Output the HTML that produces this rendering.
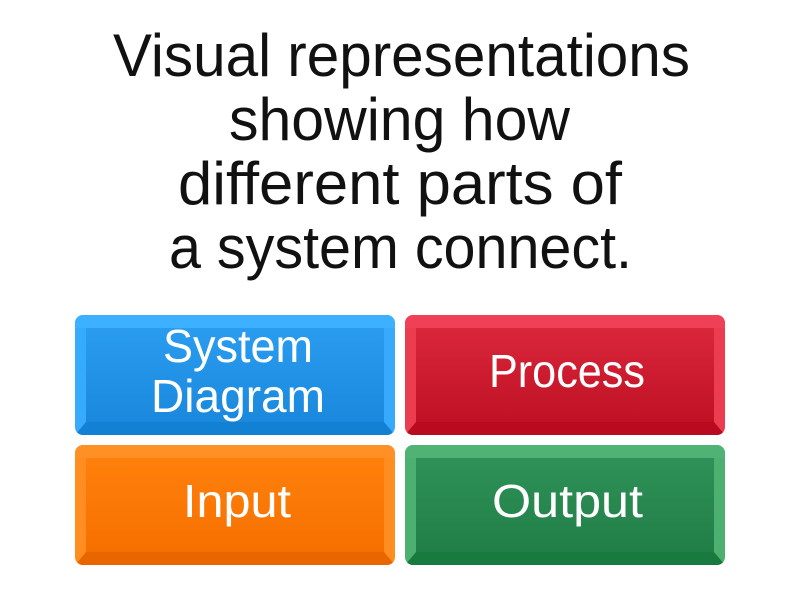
<!DOCTYPE html>
<html>
<head>
<meta charset="utf-8">
<style>
html,body{margin:0;padding:0;background:#fff;width:800px;height:600px;overflow:hidden}
svg{display:block}
text{font-family:"Liberation Sans",sans-serif}
.t{font-size:60px;fill:#111}
.b{font-size:46px;fill:#fff}
</style>
</head>
<body>
<svg width="800" height="600" viewBox="0 0 800 600" xmlns="http://www.w3.org/2000/svg">
<defs>
<linearGradient id="gb" x1="0" y1="0" x2="0" y2="1"><stop offset="0" stop-color="#2a9cf0"/><stop offset="1" stop-color="#1a89dd"/></linearGradient>
<linearGradient id="gr" x1="0" y1="0" x2="0" y2="1"><stop offset="0" stop-color="#d9263a"/><stop offset="1" stop-color="#c01125"/></linearGradient>
<linearGradient id="go" x1="0" y1="0" x2="0" y2="1"><stop offset="0" stop-color="#ff800c"/><stop offset="1" stop-color="#f67000"/></linearGradient>
<linearGradient id="gg" x1="0" y1="0" x2="0" y2="1"><stop offset="0" stop-color="#2f9158"/><stop offset="1" stop-color="#207f46"/></linearGradient>
<clipPath id="c1"><rect x="75" y="315" width="320" height="120" rx="8"/></clipPath>
<clipPath id="c2"><rect x="405" y="315" width="320" height="120" rx="8"/></clipPath>
<clipPath id="c3"><rect x="75" y="445" width="320" height="120" rx="8"/></clipPath>
<clipPath id="c4"><rect x="405" y="445" width="320" height="120" rx="8"/></clipPath>
</defs>

<text class="t" x="401.5" y="76" text-anchor="middle" textLength="577" lengthAdjust="spacingAndGlyphs">Visual representations</text>
<text class="t" x="399.5" y="140" text-anchor="middle" textLength="341" lengthAdjust="spacingAndGlyphs">showing how</text>
<text class="t" x="400" y="204" text-anchor="middle" textLength="444" lengthAdjust="spacingAndGlyphs">different parts of</text>
<text class="t" x="400.5" y="268" text-anchor="middle" textLength="463" lengthAdjust="spacingAndGlyphs">a system connect.</text>

<g clip-path="url(#c1)">
<rect x="75" y="315" width="320" height="120" fill="#36aafc"/>
<rect x="75" y="315" width="320" height="13" fill="#3db1ff"/>
<polygon points="75,435 395,435 384,422 86,422" fill="#1280d3"/>
<rect x="86" y="328" width="298" height="94" fill="url(#gb)"/>
</g>
<g clip-path="url(#c2)">
<rect x="405" y="315" width="320" height="120" fill="#ec3c50"/>
<rect x="405" y="315" width="320" height="13" fill="#f04055"/>
<polygon points="405,435 725,435 714,422 416,422" fill="#b80b1f"/>
<rect x="416" y="328" width="298" height="94" fill="url(#gr)"/>
</g>
<g clip-path="url(#c3)">
<rect x="75" y="445" width="320" height="120" fill="#ff8d20"/>
<rect x="75" y="445" width="320" height="13" fill="#ff9026"/>
<polygon points="75,565 395,565 384,552 86,552" fill="#e96500"/>
<rect x="86" y="458" width="298" height="94" fill="url(#go)"/>
</g>
<g clip-path="url(#c4)">
<rect x="405" y="445" width="320" height="120" fill="#4db070"/>
<rect x="405" y="445" width="320" height="13" fill="#50b274"/>
<polygon points="405,565 725,565 714,552 416,552" fill="#197a40"/>
<rect x="416" y="458" width="298" height="94" fill="url(#gg)"/>
</g>

<text class="b" x="238" y="362" text-anchor="middle" textLength="150" lengthAdjust="spacingAndGlyphs">System</text>
<text class="b" x="238" y="412" text-anchor="middle" textLength="174" lengthAdjust="spacingAndGlyphs">Diagram</text>
<text class="b" x="567" y="387" text-anchor="middle" textLength="156" lengthAdjust="spacingAndGlyphs">Process</text>
<text class="b" x="237" y="517" text-anchor="middle" textLength="108" lengthAdjust="spacingAndGlyphs">Input</text>
<text class="b" x="567.5" y="517" text-anchor="middle" textLength="151" lengthAdjust="spacingAndGlyphs">Output</text>
</svg>
</body>
</html>
